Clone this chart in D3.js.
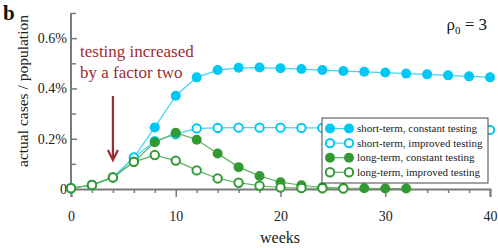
<!DOCTYPE html>
<html>
<head>
<meta charset="utf-8">
<script src="https://cdn.jsdelivr.net/npm/d3@7"></script>
</head>
<body style="margin:0;background:#fff">
<svg width="498" height="248"></svg>
<script>
const weeks = d3.range(0, 41, 2);
const shortConst = [0.003, 0.016, 0.046, 0.125, 0.245, 0.371, 0.444, 0.473, 0.482, 0.483, 0.480,
    0.477, 0.473, 0.469, 0.466, 0.463, 0.459, 0.456, 0.452, 0.448, 0.444];
const shortImproved = [0.003, 0.016, 0.046, 0.125, 0.190, 0.218, 0.241, 0.243, 0.244, 0.244, 0.244,
    0.243, 0.243, 0.242, 0.241, 0.240, 0.239, 0.238, 0.237, 0.236, 0.235];
const longConst = [0.003, 0.016, 0.046, 0.108, 0.186, 0.224, 0.196, 0.141, 0.087, 0.052, 0.027,
    0.015, 0.007, 0.004, 0.003, 0.002, 0.002];
const longImproved = [0.003, 0.016, 0.046, 0.108, 0.135, 0.113, 0.074, 0.042, 0.025, 0.013, 0.006,
    0.004, 0.003, 0.002];

const xTicks = [0, 10, 20, 30, 40];
const yTicks = [0, 0.2, 0.4, 0.6];
const yMinor = [0.1, 0.3, 0.5, 0.7];

const series = [
    { name: "short-term, constant testing", values: shortConst, color: "#00c8f5", line: "#40d4f7", open: false },
    { name: "short-term, improved testing", values: shortImproved, color: "#00c8f5", line: "#40d4f7", open: true },
    { name: "long-term, constant testing", values: longConst, color: "#339a33", line: "#5cb35c", open: false },
    { name: "long-term, improved testing", values: longImproved, color: "#339a33", line: "#5cb35c", open: true }
];

const svg = d3.select("svg");
const x = d3.scaleLinear().domain([0, 40]).range([71, 490]);
const y = d3.scaleLinear().domain([0, 0.7]).range([189, 13]);
const axisColor = "#7a7a7a";

// axes
svg.append("g")
    .attr("transform", `translate(0,${y(0)})`)
    .call(d3.axisBottom(x).tickValues(xTicks).tickSize(8).tickPadding(14).tickFormat(d3.format("d")));
svg.append("g")
    .attr("transform", `translate(0,${y(0)})`)
    .call(d3.axisBottom(x).tickValues(weeks.filter(w => w % 10 !== 0)).tickSize(4).tickFormat(""))
    .select(".domain").remove();

const yAxis = svg.append("g")
    .attr("transform", `translate(${x(0)},0)`)
    .call(d3.axisLeft(y).tickValues(yTicks).tickSize(-6).tickPadding(4)
        .tickFormat(d => d === 0 ? "0" : d3.format(".1f")(d) + "%"));
svg.append("g")
    .attr("transform", `translate(${x(0)},0)`)
    .call(d3.axisLeft(y).tickValues(yMinor).tickSize(-5).tickFormat(""))
    .select(".domain").remove();
yAxis.select(".domain").attr("d", `M0,${y(0)}V${y(0.7)}`);

svg.selectAll(".domain").attr("stroke", axisColor).attr("stroke-width", 2);
svg.selectAll(".tick line").attr("stroke", axisColor).attr("stroke-width", 1.5);
svg.selectAll(".tick text").attr("fill", "#222").attr("font-size", 14);

// series
const line = d3.line().x((d, i) => x(weeks[i])).y(d => y(d));
series.forEach(s => {
    svg.append("path")
        .attr("d", line(s.values))
        .attr("fill", "none")
        .attr("stroke", s.line)
        .attr("stroke-width", 1.2);
    svg.append("g").selectAll("circle")
        .data(s.values)
        .enter()
        .append("circle")
        .attr("cx", (d, i) => x(weeks[i]))
        .attr("cy", d => y(d))
        .attr("r", s.open ? 4.2 : 5)
        .attr("fill", s.open ? "#fff" : s.color)
        .attr("stroke", s.open ? s.color : "none")
        .attr("stroke-width", 2);
});

// legend
const lg = svg.append("g").attr("transform", "translate(322,118)");
lg.append("rect")
    .attr("width", 166).attr("height", 65)
    .attr("fill", "#fff").attr("stroke", "#444").attr("stroke-width", 1);
series.forEach((s, i) => {
    const row = lg.append("g").attr("transform", `translate(0,${10.5 + i * 14.6})`);
    row.append("line").attr("x1", 8).attr("x2", 27).attr("stroke", s.line).attr("stroke-width", 1.2);
    [8, 27].forEach(cx => row.append("circle")
        .attr("cx", cx).attr("r", s.open ? 4.2 : 5)
        .attr("fill", s.open ? "#fff" : s.color)
        .attr("stroke", s.open ? s.color : "none")
        .attr("stroke-width", 2));
    row.append("text").attr("x", 35).attr("dy", "0.33em")
        .attr("font-size", 11).attr("fill", "#222").text(s.name);
});

// annotation
const red = "#9b2d33";
svg.append("text").attr("x", 80).attr("y", 57).attr("fill", red)
    .attr("font-size", 17).text("testing increased");
svg.append("text").attr("x", 80).attr("y", 78).attr("fill", red)
    .attr("font-size", 17).text("by a factor two");
svg.append("line").attr("x1", x(4)).attr("x2", x(4)).attr("y1", 96).attr("y2", 159)
    .attr("stroke", red).attr("stroke-width", 2.2);
svg.append("path")
    .attr("d", `M${x(4) - 5},150L${x(4)},160L${x(4) + 5},150`)
    .attr("fill", "none").attr("stroke", red).attr("stroke-width", 2.2);

// labels
svg.append("text").attr("x", 3).attr("y", 20).attr("font-size", 21)
    .attr("font-weight", "bold").attr("fill", "#111").text("b");
svg.append("text").attr("x", 280).attr("y", 243).attr("text-anchor", "middle")
    .attr("font-size", 16).attr("fill", "#222").text("weeks");
svg.append("text").attr("transform", "translate(28,91) rotate(-90)").attr("text-anchor", "middle")
    .attr("font-size", 15.5).attr("fill", "#222").text("actual cases / population");

const rho = svg.append("text").attr("x", 487).attr("y", 30).attr("text-anchor", "end")
    .attr("font-size", 17).attr("fill", "#111");
rho.append("tspan").text("ρ");
rho.append("tspan").attr("dy", 4).attr("font-size", 11).text("0");
rho.append("tspan").attr("dy", -4).text(" = 3");

svg.selectAll("g").attr("font-family", null);
svg.selectAll("text").attr("font-family", "Liberation Serif");
</script>
</body>
</html>
